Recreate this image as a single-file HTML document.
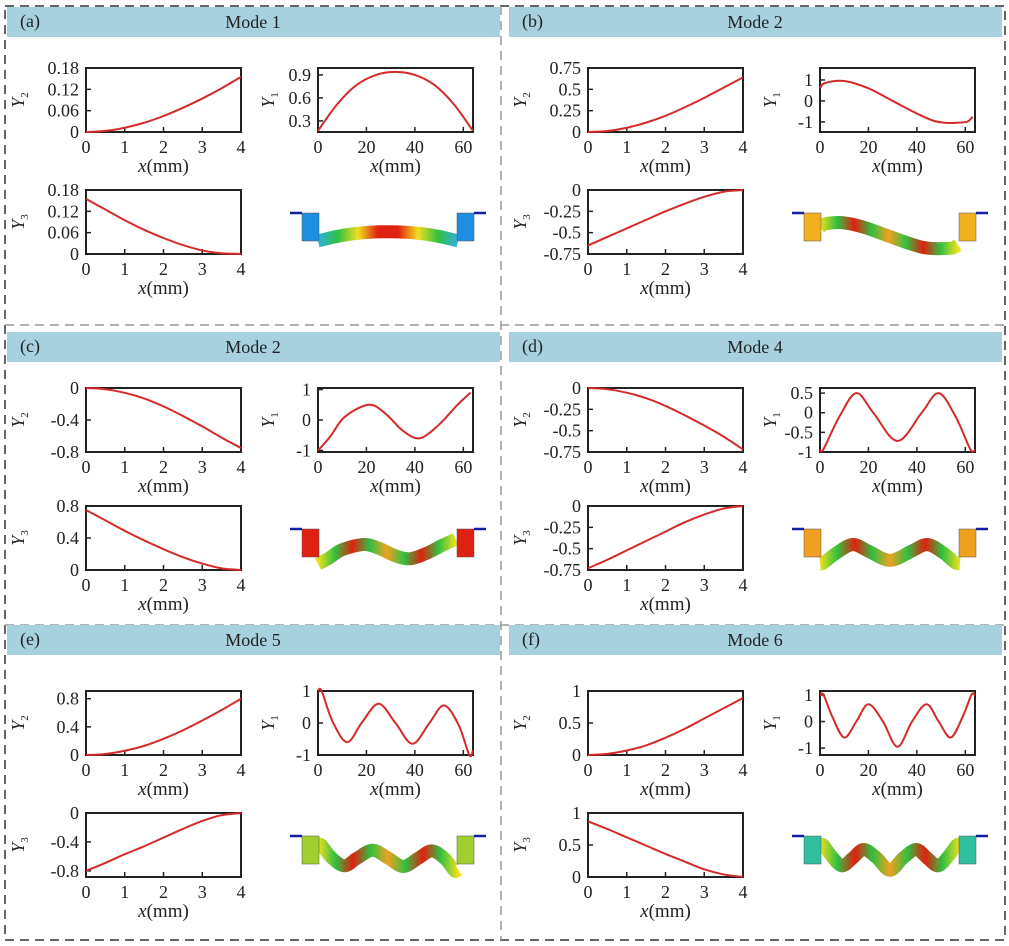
<!DOCTYPE html>
<html><head><meta charset="utf-8">
<style>
html,body{margin:0;padding:0;background:#fff;}
svg{display:block;font-family:"Liberation Serif",serif;}
</style></head>
<body>
<svg id="fig" width="1009" height="946" viewBox="0 0 1009 946" xmlns="http://www.w3.org/2000/svg"></svg>
<script>
// ---- data ----
const panelLetters = ["(a)","(b)","(c)","(d)","(e)","(f)"];
const modeTitles = ["Mode 1","Mode 2","Mode 2","Mode 4","Mode 5","Mode 6"];
const xShortKnots = [0,0.5,1,1.5,2,2.5,3,3.5,4];
const xShortTicks = [0,1,2,3,4];
const xLongTicks = [0,20,40,60];
// Y2 series
const y2a = [0,0.003,0.012,0.026,0.045,0.068,0.094,0.123,0.155];
const y2b = [0,0.012,0.05,0.11,0.19,0.29,0.4,0.52,0.64];
const y2c = [0,-0.015,-0.06,-0.13,-0.23,-0.35,-0.48,-0.62,-0.75];
const y2d = [0,-0.014,-0.055,-0.12,-0.21,-0.32,-0.44,-0.57,-0.72];
const y2e = [0,0.015,0.06,0.13,0.23,0.35,0.49,0.64,0.8];
const y2f = [0,0.018,0.07,0.15,0.27,0.41,0.57,0.73,0.89];
// Y3 series
const y3a = [0.155,0.125,0.095,0.068,0.045,0.025,0.01,0.002,0];
const y3b = [-0.65,-0.55,-0.45,-0.35,-0.25,-0.16,-0.08,-0.02,0];
const y3c = [0.75,0.62,0.49,0.37,0.26,0.16,0.08,0.02,0];
const y3d = [-0.73,-0.63,-0.52,-0.41,-0.3,-0.19,-0.1,-0.03,0];
const y3e = [-0.8,-0.69,-0.57,-0.46,-0.34,-0.22,-0.11,-0.03,0];
const y3f = [0.87,0.75,0.62,0.49,0.36,0.24,0.12,0.04,0];
// Y1 series (x in mm, y)
const y1aX = [0,8,16,24,32,40,48,56,64];
const y1aY = [0.17,0.52,0.77,0.9,0.94,0.9,0.77,0.52,0.17];
const y1bX = [0,2,10,20,30,40,47,53,58,61,63];
const y1bY = [0.6,0.85,0.95,0.6,0,-0.6,-0.95,-1.05,-1.03,-0.98,-0.75];
const y1cX = [0,5,11,21,28,35,42,50,57,63];
const y1cY = [-1,-0.55,0.1,0.5,0.2,-0.35,-0.6,-0.15,0.45,0.9];
const y1dX = [0,1.5,8,15,22,32,42,49,56,62,64];
const y1dY = [-0.95,-0.92,-0.1,0.5,0,-0.72,0,0.5,-0.1,-0.92,-0.95];
const y1eX = [0,1.5,6,12,18,25,32,39,46,52,58,62.5,64];
const y1eY = [1,1,0.05,-0.6,0,0.6,0,-0.65,0,0.55,-0.05,-1,-0.85];
const y1fX = [0,1.5,5,10,15,20,26,32,38,44,49,54,59,62.5,64];
const y1fY = [1,1,0.2,-0.6,0,0.65,0,-0.95,0,0.65,0,-0.6,0.2,1,1];
// axis ranges / ticks
const y2Range = [[0,0.18],[0,0.75],[-0.8,0],[-0.75,0],[0,0.91],[0,1]];
const y2Ticks = [[0,0.06,0.12,0.18],[0,0.25,0.5,0.75],[0,-0.4,-0.8],[0,-0.25,-0.5,-0.75],[0,0.4,0.8],[0,0.5,1]];
const y3Range = [[0,0.18],[-0.75,0],[0,0.8],[-0.75,0],[-0.885,0],[0,1]];
const y3Ticks = [[0,0.06,0.12,0.18],[0,-0.25,-0.5,-0.75],[0,0.4,0.8],[0,-0.25,-0.5,-0.75],[0,-0.4,-0.8],[0,0.5,1]];
const y1Range = [[0.155,0.99],[-1.48,1.57],[-1.05,1.05],[-1,0.63],[-1,1],[-1.26,1.15]];
const y1Ticks = [[0.3,0.6,0.9],[-1,0,1],[-1,0,1],[0.5,0,-0.5,-1],[-1,0,1],[-1,0,1]];

// ---- layout ----
const NS="http://www.w3.org/2000/svg";
const svg=document.getElementById('fig');
function mk(tag,attrs,parent){const e=document.createElementNS(NS,tag);for(const k in attrs)e.setAttribute(k,attrs[k]);(parent||svg).appendChild(e);return e;}
const colX=[0,502];
const headTop=[7,332,625], plot1Top=[68,388,691], plot2Top=[190,506,813];
const PH=64;

function fmt(v){if(v===0)return "0";let s=String(v);s=s.replace(/^(-?)0\./,"$1.");return s.replace(/^\./,"0.").replace(/^-\./,"-0.");}
function catmull(pts){let d="M"+pts[0][0]+","+pts[0][1];for(let i=0;i<pts.length-1;i++){const p0=pts[i-1]||pts[i],p1=pts[i],p2=pts[i+1],p3=pts[i+2]||p2;const c1x=p1[0]+(p2[0]-p0[0])/6,c1y=p1[1]+(p2[1]-p0[1])/6,c2x=p2[0]-(p3[0]-p1[0])/6,c2y=p2[1]-(p3[1]-p1[1])/6;d+=` C${c1x.toFixed(2)},${c1y.toFixed(2)} ${c2x.toFixed(2)},${c2y.toFixed(2)} ${p2[0].toFixed(2)},${p2[1].toFixed(2)}`;}return d;}

function plot(g,x0,y0,xr,xt,yr,yt,xs,ys,ylab,name){
  const w=155,h=PH;
  const sx=v=>x0+(v-xr[0])/(xr[1]-xr[0])*w;
  const sy=v=>y0+h-(v-yr[0])/(yr[1]-yr[0])*h;
  const pg=mk('g',{},g);
  
  
  const fr=mk('rect',{x:x0,y:y0,width:w,height:h,fill:'none',stroke:'#222','stroke-width':2},pg);
  
  xt.forEach(t=>{const X=sx(t);mk('line',{x1:X,x2:X,y1:y0+h,y2:y0+h-5,stroke:'#222','stroke-width':1.5},pg);
    const tx=mk('text',{x:X,y:y0+h+21,'text-anchor':'middle','font-size':18,fill:'#222'},pg);tx.textContent=t;
    });
  yt.forEach(t=>{const Y=sy(t);mk('line',{x1:x0,x2:x0+5,y1:Y,y2:Y,stroke:'#222','stroke-width':1.5},pg);
    const tx=mk('text',{x:x0-7,y:Y+6,'text-anchor':'end','font-size':18,fill:'#222'},pg);tx.textContent=fmt(t);
    });
  const xl=mk('text',{x:x0+w/2,y:y0+h+40,'text-anchor':'middle','font-size':19,fill:'#222'},pg);
  xl.innerHTML='<tspan font-style="italic">x</tspan>(mm)';
  
  const lx=x0-(ylab==="1"?44:62);
  const yl=mk('text',{x:0,y:0,transform:`translate(${lx},${y0+h/2}) rotate(-90)`,'text-anchor':'middle','font-size':18,fill:'#222'},pg);
  yl.innerHTML='<tspan font-style="italic">Y</tspan><tspan font-size="11" dy="4">'+ylab+'</tspan>';
  
  const pts=xs.map((v,i)=>[sx(v),sy(ys[i])]);
  const ln=mk('path',{d:catmull(pts),fill:'none',stroke:'#d42a2a','stroke-width':2},pg);
  
}

const Y2=[y2a,y2b,y2c,y2d,y2e,y2f], Y3=[y3a,y3b,y3c,y3d,y3e,y3f];
const Y1X=[y1aX,y1bX,y1cX,y1dX,y1eX,y1fX], Y1Y=[y1aY,y1bY,y1cY,y1dY,y1eY,y1fY];
const blockCol=['#1e8fe0','#f0b020','#e02010','#f0a020','#a0d030','#30c0a0'];

function structure(g,cx,cy,idx){
  const sg=mk('g',{},g);
  
  const L=cx-70,R=cx+70;
  const xs=Y1X[idx],ys=Y1Y[idx];
  const pts=[];for(let i=0;i<xs.length;i++)pts.push([L+(xs[i]/64)*(R-L),cy-ys[i]*13]);
  if(idx===0){for(let i=0;i<pts.length;i++)pts[i][1]=cy+8-ys[i]*12;}
  const d=catmull(pts);
  const grad=mk('linearGradient',{id:'g'+idx,x1:0,x2:1,y1:0,y2:0},sg);
  const stops=idx===0?['#30b0e0','#30c040','#f0e020','#e02010','#e02010','#f0e020','#30c040','#30b0e0']:['#f0e020','#30c040','#e02010','#30c040','#f0a020','#30c040','#e02010','#30c040','#f0e020'];
  stops.forEach((c,i)=>mk('stop',{offset:i/(stops.length-1),'stop-color':c},grad));
  mk('path',{d:d,fill:'none',stroke:`url(#g${idx})`,'stroke-width':13},sg);
  mk('rect',{x:L-16,y:cy-22,width:17,height:28,fill:blockCol[idx],stroke:'#555','stroke-width':0.5},sg);
  mk('rect',{x:R-1,y:cy-22,width:17,height:28,fill:blockCol[idx],stroke:'#555','stroke-width':0.5},sg);
  mk('path',{d:`M${L-28},${cy-22} L${L-16},${cy-22}`,stroke:'#1020a0','stroke-width':2.5,fill:'none'},sg);
  mk('path',{d:`M${R+16},${cy-22} L${R+28},${cy-22}`,stroke:'#1020a0','stroke-width':2.5,fill:'none'},sg);
}

const ob=mk('rect',{x:5,y:6,width:1000,height:934,fill:'none',stroke:'#333','stroke-width':1.5,'stroke-dasharray':'9,6'});

[[501,6,501,940],[5,325,1005,325],[5,625,1005,625]].forEach(a=>{
  const l=mk('line',{x1:a[0],y1:a[1],x2:a[2],y2:a[3],stroke:'#999','stroke-width':1.5,'stroke-dasharray':'9,6'});
  
});

for(let i=0;i<6;i++){
  const r=Math.floor(i/2),c=i%2,ox=colX[c];
  const g=mk('g',{});
  
  
  const hd=mk('rect',{x:ox+7,y:headTop[r],width:493,height:30,fill:'#a8d1df'},g);
  
  const lt=mk('text',{x:ox+20,y:headTop[r]+20,'font-size':18,fill:'#222'},g);lt.textContent=panelLetters[i];
  
  const tt=mk('text',{x:ox+253,y:headTop[r]+21,'font-size':18,'text-anchor':'middle',fill:'#222'},g);tt.textContent=modeTitles[i];
  
  plot(g,ox+86,plot1Top[r],[0,4],xShortTicks,y2Range[i],y2Ticks[i],xShortKnots,Y2[i],"2","y2-plot");
  plot(g,ox+318,plot1Top[r],[0,64],xLongTicks,y1Range[i],y1Ticks[i],Y1X[i],Y1Y[i],"1","y1-plot");
  plot(g,ox+86,plot2Top[r],[0,4],xShortTicks,y3Range[i],y3Ticks[i],xShortKnots,Y3[i],"3","y3-plot");
  structure(g,ox+388,plot2Top[r]+45,i);
}
</script>
</body></html>
